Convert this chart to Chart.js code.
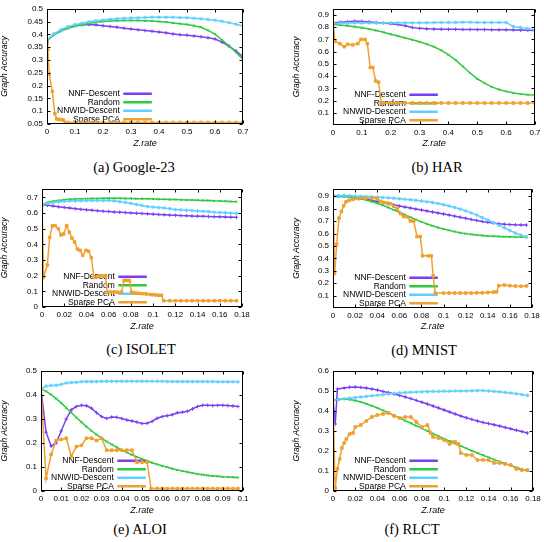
<!DOCTYPE html>
<html>
<head>
<meta charset="utf-8">
<title>Graph Accuracy vs Z.rate</title>
<script src="https://cdn.jsdelivr.net/npm/chart.js@4"></script>
<style>
  body { margin:0; background:#fff; }
  #page { position:relative; width:544px; height:542px; background:#fff; }
  #page canvas { position:absolute; }
  .cap { position:absolute; font-family:"Liberation Serif", serif; font-size:14.5px; line-height:16px;
         transform:translateX(-50%); white-space:nowrap; color:#000; }
</style>
</head>
<body>
<div id="page">
  <canvas id="pa" width="272" height="149" style="left:0;top:0"></canvas>
  <canvas id="pb" width="272" height="149" style="left:272px;top:0"></canvas>
  <canvas id="pc" width="272" height="152" style="left:0;top:180px"></canvas>
  <canvas id="pd" width="272" height="152" style="left:272px;top:180px"></canvas>
  <canvas id="pe" width="272" height="156" style="left:0;top:360px"></canvas>
  <canvas id="pf" width="272" height="156" style="left:272px;top:360px"></canvas>
  <div class="cap" style="left:134px;top:159px">(a) Google-23</div>
  <div class="cap" style="left:437px;top:159px">(b) HAR</div>
  <div class="cap" style="left:141px;top:341px">(c) ISOLET</div>
  <div class="cap" style="left:424px;top:342px">(d) MNIST</div>
  <div class="cap" style="left:140px;top:521px">(e) ALOI</div>
  <div class="cap" style="left:412px;top:521px">(f) RLCT</div>
</div>
<script>
// ---- common ----
const seriesNames = ['NNF-Descent', 'Random', 'NNWID-Descent', 'Sparse PCA'];
const lineColors = ['#7b3ff2', '#2fc83f', '#5fcfff', '#f0a030'];
const markStyles = ['cross', 'crossRot', 'star', 'rect'];
const markSizes = [1.8, 1.6, 1.8, 1.8];

// Z.rate samples shared by the smooth curves
const rateX07 = [0,0.025,0.05,0.075,0.1,0.125,0.15,0.175,0.2,0.225,0.25,0.275,0.3,0.325,0.35,0.375,0.4,0.425,0.45,0.475,0.5,0.525,0.55,0.575,0.6,0.625,0.65,0.675,0.7];
const rateX18 = [0,0.005,0.01,0.015,0.02,0.025,0.03,0.035,0.04,0.045,0.05,0.055,0.06,0.065,0.07,0.075,0.08,0.085,0.09,0.095,0.1,0.105,0.11,0.115,0.12,0.125,0.13,0.135,0.14,0.145,0.15,0.155,0.16,0.165,0.17,0.175];
const ticks07 = [0,0.1,0.2,0.3,0.4,0.5,0.6,0.7];
const ticks18 = [0,0.02,0.04,0.06,0.08,0.1,0.12,0.14,0.16,0.18];

// (a) Google-23
const googleNnf = [0.375,0.400,0.415,0.427,0.435,0.438,0.439,0.437,0.434,0.431,0.428,0.424,0.421,0.418,0.415,0.412,0.409,0.406,0.402,0.399,0.397,0.394,0.391,0.387,0.382,0.370,0.354,0.335,0.313];
const googleRandom = [0.375,0.398,0.413,0.424,0.432,0.438,0.443,0.447,0.450,0.452,0.453,0.454,0.454,0.454,0.453,0.452,0.450,0.448,0.445,0.442,0.439,0.434,0.428,0.416,0.401,0.378,0.355,0.330,0.302];
const googleNnwid = [0.378,0.402,0.418,0.430,0.438,0.444,0.449,0.453,0.456,0.459,0.461,0.463,0.464,0.465,0.466,0.467,0.467,0.467,0.467,0.466,0.465,0.463,0.461,0.458,0.455,0.451,0.446,0.440,0.433];
const googlePcaX = [0,0.003,0.008,0.019,0.028,0.035,0.042,0.05,0.058,0.065,0.075,0.1,0.125,0.15,0.175,0.2,0.225,0.25,0.275,0.3,0.325,0.35,0.375,0.4,0.425,0.45,0.475,0.5,0.525,0.55,0.575,0.6,0.625,0.65,0.675,0.7];
const googlePca = [0.37,0.34,0.245,0.177,0.09,0.07,0.068,0.067,0.066,0.056,0.056,0.056,0.056,0.056,0.056,0.056,0.056,0.056,0.056,0.056,0.056,0.056,0.056,0.056,0.056,0.056,0.056,0.056,0.056,0.056,0.056,0.056,0.056,0.056,0.056,0.056];
const googleYTicks = [0.05,0.1,0.15,0.2,0.25,0.3,0.35,0.4,0.45,0.5];

// (b) HAR
const harNnf = [0.835,0.840,0.845,0.848,0.847,0.843,0.838,0.833,0.828,0.822,0.812,0.797,0.790,0.786,0.784,0.783,0.782,0.782,0.781,0.781,0.780,0.780,0.779,0.779,0.778,0.777,0.776,0.774,0.772];
const harRandom = [0.822,0.818,0.812,0.804,0.795,0.784,0.772,0.758,0.742,0.727,0.712,0.697,0.680,0.661,0.640,0.610,0.575,0.530,0.478,0.425,0.378,0.342,0.312,0.290,0.275,0.262,0.253,0.248,0.245];
const harNnwid = [0.830,0.832,0.833,0.834,0.834,0.834,0.834,0.834,0.835,0.835,0.835,0.835,0.836,0.836,0.837,0.838,0.838,0.839,0.840,0.840,0.839,0.838,0.838,0.839,0.838,0.805,0.797,0.788,0.776];
const harPcaX = [0,0.007,0.024,0.039,0.051,0.068,0.086,0.097,0.111,0.119,0.129,0.138,0.148,0.158,0.167,0.175,0.2,0.225,0.25,0.275,0.3,0.325,0.35,0.375,0.4,0.425,0.45,0.475,0.5,0.525,0.55,0.575,0.6,0.625,0.65,0.675,0.7];
const harPca = [0.83,0.684,0.665,0.64,0.66,0.655,0.665,0.70,0.70,0.665,0.47,0.47,0.36,0.35,0.18,0.18,0.18,0.18,0.18,0.18,0.18,0.18,0.18,0.18,0.18,0.18,0.18,0.18,0.18,0.18,0.18,0.18,0.18,0.18,0.18,0.18,0.18];
const harYTicks = [0.1,0.2,0.3,0.4,0.5,0.6,0.7,0.8,0.9];

// (c) ISOLET
const isoletNnf = [0.655,0.650,0.645,0.640,0.636,0.632,0.628,0.624,0.621,0.618,0.615,0.612,0.610,0.607,0.605,0.603,0.601,0.599,0.597,0.595,0.593,0.591,0.589,0.587,0.586,0.584,0.583,0.581,0.580,0.579,0.578,0.577,0.576,0.575,0.574,0.573];
const isoletRandom = [0.655,0.667,0.675,0.681,0.685,0.688,0.690,0.691,0.692,0.693,0.693,0.694,0.694,0.694,0.694,0.693,0.693,0.692,0.692,0.691,0.690,0.689,0.688,0.687,0.686,0.685,0.684,0.683,0.682,0.681,0.680,0.678,0.677,0.676,0.674,0.673];
const isoletNnwid = [0.655,0.663,0.668,0.672,0.675,0.677,0.678,0.679,0.680,0.680,0.680,0.680,0.680,0.678,0.673,0.668,0.662,0.655,0.648,0.642,0.638,0.635,0.633,0.628,0.622,0.620,0.618,0.616,0.613,0.611,0.609,0.606,0.604,0.602,0.600,0.598];
const isoletPcaX = [0,0.0015,0.0048,0.0069,0.0093,0.0117,0.0147,0.0171,0.0195,0.0222,0.0246,0.027,0.0294,0.0318,0.0342,0.0366,0.0396,0.042,0.0444,0.0468,0.0492,0.0516,0.054,0.057,0.0589,0.062,0.065,0.068,0.0715,0.0739,0.0763,0.0787,0.0805,0.083,0.0853,0.088,0.0913,0.094,0.0973,0.0997,0.1025,0.105,0.1075,0.1095,0.115,0.12,0.125,0.13,0.135,0.14,0.145,0.15,0.155,0.16,0.165,0.17,0.175];
const isoletPca = [0.65,0.193,0.268,0.444,0.518,0.52,0.50,0.46,0.467,0.52,0.478,0.44,0.415,0.37,0.362,0.33,0.362,0.356,0.315,0.19,0.19,0.2,0.2,0.2,0.095,0.095,0.095,0.095,0.095,0.17,0.17,0.17,0.095,0.09,0.088,0.087,0.085,0.083,0.08,0.078,0.077,0.075,0.075,0.04,0.04,0.04,0.04,0.04,0.04,0.04,0.04,0.04,0.04,0.04,0.04,0.04,0.04];
const isoletYTicks = [0,0.1,0.2,0.3,0.4,0.5,0.6,0.7];

// (d) MNIST
const mnistNnf = [0.900,0.903,0.905,0.902,0.896,0.888,0.878,0.868,0.858,0.849,0.840,0.831,0.822,0.813,0.805,0.797,0.789,0.781,0.773,0.765,0.757,0.749,0.740,0.731,0.722,0.713,0.705,0.697,0.690,0.684,0.679,0.675,0.672,0.670,0.669,0.668];
const mnistRandom = [0.900,0.898,0.895,0.891,0.886,0.879,0.869,0.857,0.843,0.827,0.809,0.790,0.771,0.751,0.731,0.712,0.694,0.677,0.662,0.648,0.636,0.625,0.615,0.606,0.599,0.593,0.588,0.584,0.580,0.578,0.576,0.574,0.573,0.572,0.572,0.572];
const mnistNnwid = [0.905,0.905,0.904,0.903,0.901,0.899,0.897,0.895,0.893,0.890,0.887,0.884,0.880,0.876,0.872,0.867,0.862,0.856,0.849,0.841,0.832,0.822,0.810,0.797,0.782,0.766,0.748,0.729,0.709,0.688,0.667,0.645,0.624,0.604,0.586,0.572];
const mnistPcaX = [0,0.0015,0.0033,0.0054,0.0076,0.0097,0.0118,0.0145,0.018,0.023,0.029,0.035,0.04,0.043,0.046,0.049,0.052,0.055,0.058,0.061,0.064,0.067,0.07,0.073,0.076,0.079,0.081,0.086,0.089,0.0906,0.0925,0.1,0.105,0.11,0.115,0.12,0.125,0.13,0.135,0.14,0.145,0.148,0.15,0.155,0.16,0.165,0.17,0.175];
const mnistPca = [0.9,0.278,0.514,0.724,0.777,0.824,0.855,0.865,0.875,0.88,0.885,0.885,0.88,0.86,0.85,0.845,0.84,0.82,0.80,0.76,0.735,0.735,0.70,0.70,0.575,0.575,0.42,0.42,0.42,0.26,0.12,0.12,0.12,0.12,0.12,0.12,0.12,0.122,0.122,0.125,0.128,0.13,0.18,0.185,0.18,0.177,0.175,0.178];
const mnistYTicks = [0.1,0.2,0.3,0.4,0.5,0.6,0.7,0.8,0.9];

// (e) ALOI
const aloiX = [0,0.0025,0.005,0.0075,0.01,0.0125,0.015,0.0175,0.02,0.0225,0.025,0.0275,0.03,0.0325,0.035,0.0375,0.04,0.0425,0.045,0.0475,0.05,0.0525,0.055,0.0575,0.06,0.0625,0.065,0.0675,0.07,0.0725,0.075,0.0775,0.08,0.0825,0.085,0.0875,0.09,0.0925,0.095,0.0975];
const aloiNnf = [0.425,0.245,0.187,0.200,0.250,0.300,0.338,0.352,0.357,0.355,0.345,0.326,0.310,0.302,0.308,0.307,0.302,0.296,0.292,0.287,0.281,0.282,0.290,0.303,0.310,0.314,0.318,0.326,0.328,0.332,0.342,0.352,0.357,0.357,0.356,0.357,0.357,0.356,0.354,0.352];
const aloiRandom = [0.425,0.415,0.402,0.385,0.367,0.347,0.327,0.306,0.287,0.268,0.251,0.235,0.220,0.206,0.194,0.182,0.171,0.161,0.151,0.142,0.134,0.126,0.118,0.111,0.105,0.099,0.093,0.088,0.083,0.079,0.075,0.071,0.068,0.065,0.063,0.061,0.059,0.058,0.057,0.056];
const aloiNnwid = [0.425,0.437,0.440,0.441,0.444,0.450,0.452,0.453,0.455,0.456,0.456,0.456,0.457,0.457,0.457,0.457,0.457,0.457,0.457,0.457,0.457,0.457,0.457,0.457,0.457,0.456,0.456,0.456,0.456,0.456,0.456,0.456,0.456,0.456,0.456,0.455,0.455,0.455,0.455,0.455];
const aloiPcaX = [0,0.0025,0.005,0.0075,0.01,0.0125,0.015,0.0175,0.02,0.0225,0.025,0.0275,0.03,0.0325,0.035,0.0375,0.04,0.0425,0.045,0.0475,0.05,0.0525,0.0545,0.0575,0.06,0.0625,0.065,0.0675,0.07,0.0725,0.075,0.0775,0.08,0.0825,0.085,0.0875,0.09,0.0925,0.095,0.0975];
const aloiPca = [0.425,0.052,0.152,0.21,0.215,0.22,0.145,0.185,0.19,0.22,0.22,0.21,0.22,0.17,0.17,0.17,0.17,0.17,0.17,0.12,0.12,0.12,0.01,0.01,0.01,0.01,0.01,0.01,0.01,0.01,0.01,0.01,0.01,0.01,0.01,0.01,0.01,0.01,0.01,0.01];
const aloiXTicks = [0,0.01,0.02,0.03,0.04,0.05,0.06,0.07,0.08,0.09,0.1];
const aloiYTicks = [0,0.1,0.2,0.3,0.4,0.5];

// (f) RLCT
const rlctNnfX = [0,0.002,0.004,0.01,0.015,0.02,0.025,0.03,0.035,0.04,0.045,0.05,0.055,0.06,0.065,0.07,0.075,0.08,0.085,0.09,0.095,0.1,0.105,0.11,0.115,0.12,0.125,0.13,0.135,0.14,0.145,0.15,0.155,0.16,0.165,0.17,0.175];
const rlctNnf = [0.455,0.335,0.51,0.515,0.519,0.52,0.518,0.515,0.51,0.505,0.498,0.492,0.485,0.478,0.47,0.462,0.453,0.444,0.435,0.425,0.415,0.405,0.395,0.385,0.375,0.366,0.358,0.35,0.343,0.337,0.331,0.325,0.318,0.311,0.304,0.297,0.29];
const rlctRandom = [0.455,0.458,0.460,0.457,0.452,0.445,0.436,0.426,0.415,0.403,0.391,0.378,0.365,0.352,0.339,0.326,0.313,0.300,0.287,0.274,0.261,0.249,0.237,0.225,0.213,0.201,0.190,0.179,0.168,0.157,0.147,0.137,0.127,0.118,0.109,0.100];
const rlctNnwid = [0.455,0.458,0.461,0.464,0.467,0.470,0.473,0.476,0.479,0.482,0.485,0.488,0.490,0.492,0.494,0.495,0.496,0.497,0.498,0.498,0.499,0.499,0.500,0.500,0.500,0.501,0.502,0.502,0.500,0.498,0.496,0.493,0.490,0.486,0.482,0.478];
const rlctPcaX = [0,0.002,0.004,0.006,0.008,0.01,0.012,0.015,0.018,0.02,0.025,0.03,0.035,0.04,0.045,0.05,0.055,0.06,0.065,0.07,0.075,0.08,0.085,0.088,0.09,0.095,0.1,0.105,0.108,0.11,0.113,0.115,0.12,0.125,0.13,0.135,0.14,0.145,0.15,0.155,0.16,0.165,0.17,0.175];
const rlctPca = [0.455,0.015,0.11,0.16,0.215,0.24,0.26,0.285,0.29,0.32,0.33,0.35,0.37,0.38,0.385,0.39,0.375,0.365,0.37,0.37,0.345,0.32,0.33,0.29,0.27,0.265,0.255,0.235,0.245,0.245,0.235,0.19,0.18,0.18,0.155,0.155,0.155,0.14,0.14,0.135,0.13,0.11,0.105,0.105];
const rlctYTicks = [0,0.1,0.2,0.3,0.4,0.5,0.6];

// frame round the plot + small inward tick marks (gnuplot style)
const framePlugin = {
  id: 'frame',
  afterLayout(chart) {
    // key sits in the bottom-left corner of the plot
    if (chart.legend) chart.legend.bottom = chart.chartArea.bottom - 0.5;
  },
  afterDraw(chart) {
    const ctx = chart.ctx, a = chart.chartArea, sx = chart.scales.x, sy = chart.scales.y;
    const l = Math.round(a.left) + 0.5, r = Math.round(a.right) - 0.5;
    const t = Math.round(a.top) + 0.5, b = Math.round(a.bottom) - 0.5;
    ctx.save();
    ctx.strokeStyle = '#000';
    ctx.lineWidth = 1;
    ctx.strokeRect(l, t, r - l, b - t);
    ctx.beginPath();
    sx.ticks.forEach(tk => {
      const p = Math.round(sx.getPixelForValue(tk.value)) + 0.5;
      ctx.moveTo(p, b); ctx.lineTo(p, b - 3);
      ctx.moveTo(p, t); ctx.lineTo(p, t + 3);
    });
    sy.ticks.forEach(tk => {
      const p = Math.round(sy.getPixelForValue(tk.value)) + 0.5;
      ctx.moveTo(l, p); ctx.lineTo(l + 3, p);
      ctx.moveTo(r, p); ctx.lineTo(r - 3, p);
    });
    ctx.stroke();
    ctx.restore();
  }
};

function fmt(v) { return String(+v.toFixed(3)); }

function drawPanel(p) {
  const sets = p.series.map((s, i) => ({
    label: seriesNames[i],
    data: s[0].map((x, j) => ({x: x, y: s[1][j]})),
    borderColor: lineColors[i],
    backgroundColor: lineColors[i],
    borderWidth: 1.5,
    pointStyle: markStyles[i],
    pointRadius: markSizes[i],
    pointBorderWidth: 1,
    pointBackgroundColor: lineColors[i],
    pointBorderColor: lineColors[i],
    order: 3 - i
  }));
  new Chart(document.getElementById(p.id), {
    type: 'line',
    data: { datasets: sets },
    options: {
      responsive: false,
      animation: false,
      layout: { padding: { left: p.padL, right: p.padR, top: p.padT, bottom: 0 } },
      plugins: {
        tooltip: { enabled: false },
        legend: {
          position: 'chartArea',
          align: 'end',
          rtl: true,
          labels: {
            boxWidth: 27, boxHeight: 1, padding: 0, color: '#000',
            font: { family: 'Liberation Sans', size: 8.5 },
            sort: (a, b) => a.datasetIndex - b.datasetIndex
          }
        }
      },
      scales: {
        x: {
          type: 'linear', min: 0, max: p.xMax,
          afterBuildTicks: s => { s.ticks = p.xTicks.map(v => ({ value: v })); },
          afterFit: s => { s.height = p.xh; },
          grid: { display: false, drawTicks: false },
          border: { display: false },
          ticks: { callback: fmt, padding: 3, maxRotation: 0, autoSkip: false, color: '#000',
                   font: { family: 'Liberation Sans', size: 8 } },
          title: { display: true, text: 'Z.rate', color: '#000', padding: 0,
                   font: { family: 'Liberation Sans', size: 9, style: 'italic' } }
        },
        y: {
          min: p.yMin, max: p.yMax,
          afterBuildTicks: s => { s.ticks = p.yTicks.map(v => ({ value: v })); },
          afterFit: s => { s.width = p.yw; },
          grid: { display: false, drawTicks: false },
          border: { display: false },
          ticks: { callback: fmt, padding: 4, color: '#000',
                   font: { family: 'Liberation Sans', size: 8 } },
          title: { display: true, text: 'Graph Accuracy', color: '#000', padding: 0,
                   font: { family: 'Liberation Sans', size: 8.5, style: 'italic' } }
        }
      }
    },
    plugins: [framePlugin]
  });
}

drawPanel({ id: 'pa', padL: 0, padR: 29, padT: 5, yw: 47, xh: 25, xMax: 0.7, yMin: 0.05, yMax: 0.5,
  xTicks: ticks07, yTicks: googleYTicks,
  series: [[rateX07, googleNnf], [rateX07, googleRandom], [rateX07, googleNnwid], [googlePcaX, googlePca]] });
drawPanel({ id: 'pb', padL: 20, padR: 9, padT: 5, yw: 41, xh: 24, xMax: 0.7, yMin: 0, yMax: 0.95,
  xTicks: ticks07, yTicks: harYTicks,
  series: [[rateX07, harNnf], [rateX07, harRandom], [rateX07, harNnwid], [harPcaX, harPca]] });
drawPanel({ id: 'pc', padL: 0, padR: 30, padT: 6, yw: 42, xh: 25, xMax: 0.18, yMin: 0, yMax: 0.755,
  xTicks: ticks18, yTicks: isoletYTicks,
  series: [[rateX18, isoletNnf], [rateX18, isoletRandom], [rateX18, isoletNnwid], [isoletPcaX, isoletPca]] });
drawPanel({ id: 'pd', padL: 20, padR: 12, padT: 6, yw: 41, xh: 24, xMax: 0.18, yMin: 0, yMax: 0.96,
  xTicks: ticks18, yTicks: mnistYTicks,
  series: [[rateX18, mnistNnf], [rateX18, mnistRandom], [rateX18, mnistNnwid], [mnistPcaX, mnistPca]] });
drawPanel({ id: 'pe', padL: 0, padR: 29, padT: 11, yw: 41, xh: 25, xMax: 0.1, yMin: 0, yMax: 0.5,
  xTicks: aloiXTicks, yTicks: aloiYTicks,
  series: [[aloiX, aloiNnf], [aloiX, aloiRandom], [aloiX, aloiNnwid], [aloiPcaX, aloiPca]] });
drawPanel({ id: 'pf', padL: 20, padR: 11, padT: 11, yw: 41, xh: 25, xMax: 0.18, yMin: 0, yMax: 0.6,
  xTicks: ticks18, yTicks: rlctYTicks,
  series: [[rlctNnfX, rlctNnf], [rateX18, rlctRandom], [rateX18, rlctNnwid], [rlctPcaX, rlctPca]] });
</script>
</body>
</html>
